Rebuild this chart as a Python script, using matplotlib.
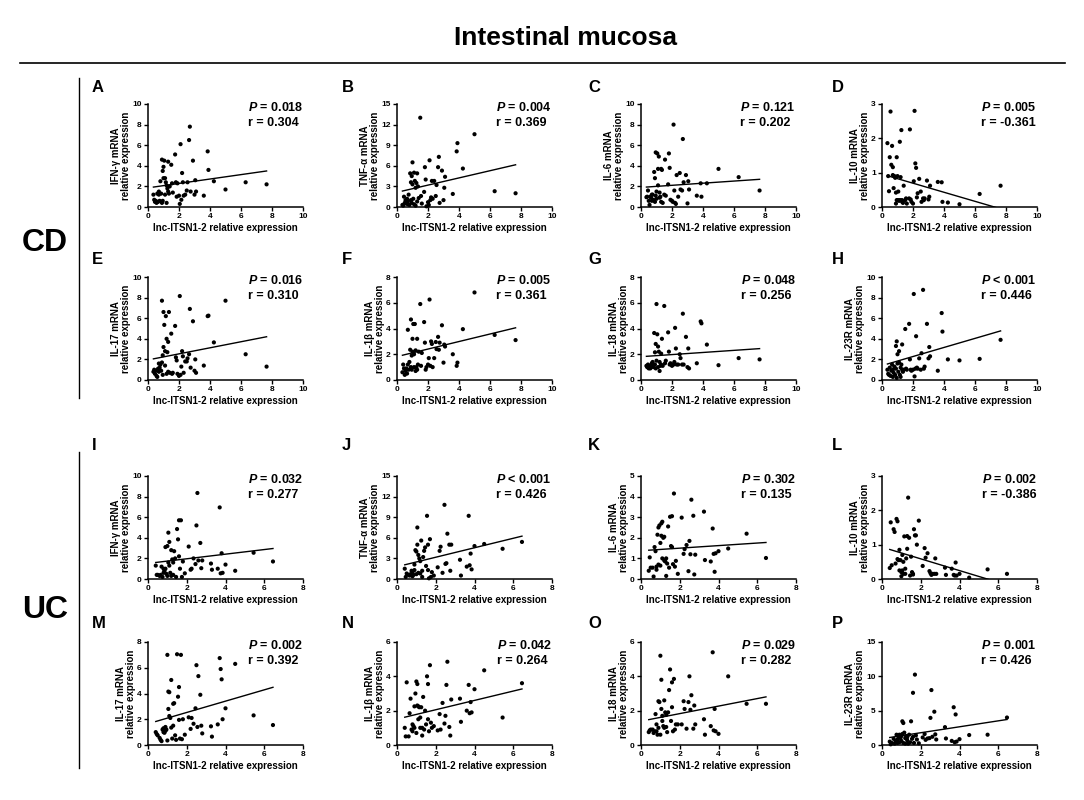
import matplotlib
matplotlib.use('Agg')
import matplotlib.pyplot as plt
from matplotlib.lines import Line2D
import numpy as np

plt.rcParams['font.family'] = ['Liberation Sans', 'DejaVu Sans']
plt.rcParams['font.weight'] = 'bold'
plt.rcParams['axes.labelweight'] = 'bold'
plt.rcParams['mathtext.fontset'] = 'custom'
plt.rcParams['mathtext.rm'] = 'Liberation Sans:bold'
plt.rcParams['mathtext.bfit'] = 'Liberation Sans:italic:bold'

# lnc-ITSN1-2 relative expression (shared by all panels of one disease)
cd_x = [0.35, 0.4, 0.45, 0.5, 0.55, 0.6, 0.65, 0.7, 0.7, 0.75,
        0.8, 0.85, 0.9, 0.9, 0.95, 0.95, 1.0, 1.0, 1.05, 1.1,
        1.1, 1.15, 1.2, 1.2, 1.25, 1.3, 1.3, 1.35, 1.4, 1.5,
        1.55, 1.6, 1.75, 1.8, 1.85, 1.9, 2.0, 2.05, 2.1, 2.15,
        2.2, 2.25, 2.3, 2.4, 2.5, 2.55, 2.65, 2.7, 2.75, 2.9,
        3.0, 3.05, 3.1, 3.6, 3.85, 3.9, 4.25, 5.0, 6.3, 7.65]
uc_x = [0.4, 0.45, 0.5, 0.6, 0.65, 0.7, 0.75, 0.8, 0.8, 0.85,
        0.9, 0.9, 0.95, 1.0, 1.0, 1.05, 1.05, 1.1, 1.1, 1.15,
        1.2, 1.2, 1.25, 1.3, 1.3, 1.35, 1.4, 1.45, 1.5, 1.55,
        1.6, 1.6, 1.65, 1.7, 1.75, 1.8, 1.9, 2.1, 2.2, 2.25,
        2.35, 2.45, 2.5, 2.55, 2.6, 2.7, 2.75, 2.8, 3.25, 3.3,
        3.6, 3.7, 3.75, 3.8, 3.85, 4.0, 4.5, 5.45, 6.45]

# CD cytokine mRNA
cd_ifng = [1.2, 0.7, 0.5, 0.6, 0.4, 1.3, 0.5, 1.5, 1.2, 0.6,
           2.5, 1.3, 4.6, 0.4, 3.5, 0.6, 3.9, 2.8, 4.5, 2.8,
           1.2, 2.4, 0.4, 2.1, 1.8, 4.4, 1.5, 1.3, 2.0, 4.1,
           2.3, 1.4, 5.1, 2.4, 1.0, 2.3, 1.1, 0.3, 6.1, 0.7,
           3.3, 2.4, 1.1, 1.2, 1.6, 2.4, 6.5, 7.8, 1.5, 4.5,
           1.2, 2.6, 1.5, 1.1, 5.4, 3.6, 2.5, 1.7, 2.4, 2.2]
cd_tnfa = [0.3, 0.2, 1.5, 0.6, 1.0, 0.5, 1.2, 0.8, 0.4, 1.8,
           0.3, 4.9, 3.6, 1.0, 0.6, 4.5, 3.3, 6.5, 1.2, 5.0,
           0.4, 3.8, 2.8, 0.2, 3.5, 0.8, 4.9, 3.0, 1.3, 13.0,
           1.6, 0.5, 2.2, 5.8, 4.0, 0.1, 0.7, 0.3, 6.8, 1.0,
           1.4, 3.8, 1.2, 3.8, 1.6, 3.2, 5.8, 7.3, 0.6, 5.3,
           1.0, 2.8, 4.4, 1.9, 8.1, 9.3, 5.6, 10.6, 2.3, 2.0]
cd_il6 = [0.95, 1.0, 1.6, 0.6, 0.2, 1.0, 0.9, 1.2, 0.6, 1.2,
          0.7, 3.4, 2.8, 0.5, 5.3, 1.1, 0.8, 1.5, 5.2, 3.7,
          2.1, 4.9, 1.4, 0.9, 1.0, 3.7, 0.5, 3.6, 0.4, 1.2,
          4.6, 1.1, 2.2, 5.2, 3.8, 0.7, 0.6, 0.5, 8.0, 1.6,
          0.4, 0.3, 3.1, 1.0, 3.3, 1.7, 1.6, 6.6, 2.4, 3.1,
          0.35, 2.5, 1.7, 1.1, 2.3, 1.0, 2.3, 3.7, 2.9, 1.6]
cd_il10 = [1.86, 0.9, 0.46, 1.45, 2.78, 1.23, 1.78, 1.16, 0.93, 0.55,
           0.9, 0.85, 0.1, 0.42, 1.45, 0.2, 0.2, 0.9, 0.45, 0.18,
           0.2, 1.9, 0.2, 0.87, 2.24, 0.15, 0.2, 0.12, 0.62, 0.2,
           0.25, 0.1, 0.25, 2.26, 0.22, 0.15, 0.1, 0.75, 2.8, 1.27,
           1.14, 0.28, 0.4, 0.82, 0.45, 0.15, 0.25, 0.2, 0.25, 0.77,
           0.22, 0.3, 0.62, 0.73, 0.72, 0.15, 0.13, 0.08, 0.38, 0.62]
cd_il17 = [0.8, 1.0, 0.6, 0.9, 0.4, 0.3, 1.1, 0.8, 1.6, 1.2,
           1.5, 0.9, 7.7, 1.7, 0.5, 2.4, 6.6, 3.2, 5.35, 2.8,
           1.4, 6.2, 4.0, 0.6, 2.7, 3.7, 0.8, 6.6, 0.7, 4.5,
           0.6, 0.7, 5.25, 2.2, 1.9, 0.6, 0.4, 8.15, 0.5, 1.3,
           2.8, 2.3, 0.7, 1.8, 1.8, 2.1, 2.5, 6.9, 1.2, 5.7,
           0.9, 2.0, 0.7, 1.4, 6.2, 6.25, 3.65, 7.7, 2.5, 1.3]
cd_il1b = [0.6, 1.2, 0.9, 0.4, 0.7, 0.9, 0.5, 3.9, 1.2, 0.8,
           1.4, 2.35, 4.7, 1.0, 0.8, 1.9, 3.2, 2.2, 4.35, 1.0,
           2.0, 4.35, 0.7, 2.3, 1.0, 3.2, 0.8, 1.2, 2.2, 5.9,
           1.1, 2.1, 4.5, 2.9, 0.8, 1.0, 1.2, 1.7, 6.25, 1.1,
           3.0, 2.8, 1.0, 1.7, 2.95, 2.4, 3.35, 2.35, 2.9, 4.25,
           1.35, 2.75, 2.6, 2.0, 1.1, 1.35, 3.95, 6.8, 3.5, 3.1]
cd_il18 = [1.1, 1.0, 1.2, 0.9, 1.1, 0.9, 1.0, 1.3, 1.1, 1.4,
           1.0, 3.65, 2.15, 1.2, 0.9, 2.8, 5.9, 1.5, 3.55, 2.6,
           1.0, 2.2, 0.7, 1.4, 1.1, 2.05, 1.2, 3.2, 1.1, 5.75,
           1.3, 1.5, 3.7, 2.2, 1.2, 1.3, 1.1, 1.2, 1.2, 1.4,
           4.05, 2.45, 1.2, 1.2, 2.0, 1.7, 1.2, 5.15, 1.2, 3.35,
           1.0, 2.45, 0.9, 1.3, 4.55, 4.4, 2.75, 1.15, 1.7, 1.6]
cd_il23r = [1.0, 0.6, 0.5, 1.2, 0.4, 0.9, 1.5, 0.3, 1.0, 0.7,
            1.3, 0.5, 3.3, 1.1, 3.75, 0.2, 2.5, 1.6, 0.8, 2.8,
            1.7, 0.5, 1.2, 0.3, 1.5, 3.45, 1.0, 0.8, 1.0, 4.95,
            1.1, 1.0, 5.45, 2.0, 1.0, 0.9, 1.0, 8.35, 0.35, 1.1,
            4.25, 1.2, 1.1, 2.1, 1.0, 2.6, 8.75, 1.1, 1.3, 5.45,
            2.1, 3.2, 2.3, 0.9, 6.5, 4.7, 2.0, 1.9, 2.05, 3.9]

# UC cytokine mRNA
uc_ifng = [1.3, 0.4, 0.4, 0.3, 0.4, 1.2, 0.2, 1.0, 0.6, 0.8,
           3.1, 1.0, 0.5, 3.2, 0.3, 4.5, 1.6, 3.6, 1.3, 0.6,
           2.8, 0.3, 1.9, 1.6, 0.4, 2.7, 2.0, 0.2, 4.85, 3.85,
           5.7, 2.2, 1.0, 5.7, 0.2, 1.7, 0.55, 3.15, 0.9, 1.0,
           2.0, 1.45, 5.2, 8.35, 1.8, 3.5, 1.05, 1.8, 1.5, 0.9,
           1.0, 6.95, 0.55, 2.5, 0.6, 1.4, 0.8, 2.55, 1.7]
uc_tnfa = [1.5, 0.3, 0.8, 0.6, 0.5, 0.7, 1.2, 0.4, 0.9, 0.6,
           2.1, 1.3, 4.2, 4.0, 0.7, 7.5, 5.0, 3.5, 0.9, 3.0,
           0.8, 2.6, 5.6, 1.2, 0.3, 3.2, 4.1, 4.6, 1.9, 9.2,
           5.0, 1.3, 0.1, 5.8, 0.3, 1.0, 0.5, 1.7, 4.1, 4.7,
           0.9, 10.8, 2.2, 2.3, 6.6, 5.0, 1.2, 5.0, 2.8, 0.5,
           1.8, 9.2, 2.0, 3.7, 1.4, 4.8, 5.1, 4.4, 5.4]
uc_il6 = [0.4, 1.05, 0.55, 0.55, 0.12, 1.55, 1.35, 0.6, 0.45, 2.15,
          2.5, 0.7, 2.6, 1.75, 0.65, 2.7, 2.1, 2.78, 1.0, 2.0,
          0.9, 2.05, 0.85, 1.0, 0.15, 0.75, 2.55, 0.55, 3.02, 1.6,
          1.55, 3.05, 0.72, 4.15, 0.6, 0.88, 0.25, 2.98, 1.22, 1.45,
          1.65, 0.38, 1.85, 1.2, 3.85, 3.07, 0.22, 1.18, 3.27, 0.92,
          0.85, 2.45, 1.22, 0.35, 1.25, 1.35, 1.48, 2.2, 1.02]
uc_il10 = [0.32, 1.65, 0.4, 1.45, 1.37, 0.45, 1.75, 0.58, 1.68, 0.55,
           0.85, 0.25, 0.55, 0.2, 0.08, 0.7, 0.25, 0.15, 0.5, 1.24,
           0.3, 0.15, 0.6, 1.25, 0.88, 2.37, 1.2, 0.1, 0.65, 0.2,
           0.13, 0.15, 1.45, 1.27, 1.27, 1.0, 1.7, 0.38, 0.9, 0.62,
           0.75, 0.23, 0.17, 0.12, 0.15, 0.15, 0.6, 0.15, 0.33, 0.12,
           0.3, 0.12, 0.1, 0.48, 0.1, 0.15, 0.04, 0.28, 0.15]
uc_il17 = [1.0, 0.85, 0.75, 0.55, 0.4, 0.3, 1.2, 1.0, 1.3, 0.95,
           1.1, 1.4, 1.2, 7.0, 0.35, 4.15, 2.8, 4.1, 2.25, 2.1,
           5.05, 1.35, 0.5, 3.2, 1.5, 3.25, 0.75, 0.4, 7.05, 3.75,
           4.5, 1.95, 0.5, 7.0, 0.45, 2.0, 0.8, 2.15, 1.25, 2.1,
           1.65, 2.85, 6.2, 1.4, 5.35, 3.9, 1.5, 0.9, 1.45, 0.65,
           1.6, 6.75, 5.9, 5.1, 2.0, 2.85, 6.3, 2.3, 1.55]
uc_il1b = [1.0, 0.5, 3.65, 0.5, 1.85, 2.7, 0.9, 1.2, 0.8, 1.1,
           2.25, 1.0, 3.0, 3.7, 0.7, 3.55, 2.3, 1.5, 2.25, 2.2,
           1.6, 1.0, 2.2, 0.55, 1.0, 2.8, 0.9, 2.0, 1.2, 4.0,
           3.55, 1.5, 0.8, 4.65, 1.3, 1.0, 1.1, 0.85, 1.8, 0.9,
           2.45, 1.25, 1.7, 3.5, 4.85, 1.05, 0.55, 2.65, 2.7, 1.35,
           2.0, 3.5, 1.85, 2.5, 1.9, 3.25, 4.35, 1.6, 3.6]
uc_il18 = [0.75, 0.85, 0.9, 0.9, 0.7, 0.8, 1.8, 1.2, 0.8, 0.6,
           2.55, 1.0, 2.5, 5.2, 0.6, 2.1, 3.8, 1.7, 1.4, 1.1,
           2.6, 1.0, 1.9, 1.75, 1.05, 0.75, 1.9, 3.2, 4.4, 1.4,
           3.65, 2.2, 0.8, 3.85, 0.9, 1.2, 1.2, 1.2, 2.55, 2.1,
           0.95, 2.5, 4.0, 2.05, 2.9, 0.95, 2.3, 1.2, 1.5, 0.6,
           1.1, 5.4, 0.85, 2.1, 0.8, 0.65, 4.0, 2.4, 2.4]
uc_il23r = [0.5, 0.1, 0.3, 0.9, 0.2, 0.6, 1.5, 0.3, 0.8, 1.2,
            0.4, 1.5, 1.0, 0.6, 1.3, 3.45, 1.6, 3.2, 0.3, 1.8,
            1.0, 0.2, 1.3, 0.7, 1.1, 0.2, 1.5, 0.4, 3.45, 0.9,
            7.6, 1.2, 0.3, 10.25, 1.4, 0.8, 0.25, 1.1, 1.6, 0.75,
            0.95, 1.0, 3.95, 8.0, 1.2, 4.85, 1.55, 0.8, 2.6, 0.95,
            0.6, 5.5, 0.4, 4.45, 0.5, 0.85, 1.45, 1.5, 4.0]

letters = list('ABCDEFGHIJKLMNOP')
cytokines = ['IFN-γ', 'TNF-α', 'IL-6', 'IL-10', 'IL-17', 'IL-1β', 'IL-18', 'IL-23R'] * 2
y_series = [cd_ifng, cd_tnfa, cd_il6, cd_il10, cd_il17, cd_il1b, cd_il18, cd_il23r,
            uc_ifng, uc_tnfa, uc_il6, uc_il10, uc_il17, uc_il1b, uc_il18, uc_il23r]
y_max = [10, 15, 10, 3, 10, 8, 8, 10,
         10, 15, 5, 3, 8, 6, 6, 15]
y_step = [2, 3, 2, 1, 2, 2, 2, 2,
          2, 3, 1, 1, 2, 2, 2, 5]
p_text = ['= 0.018', '= 0.004', '= 0.121', '= 0.005', '= 0.016', '= 0.005', '= 0.048', '< 0.001',
          '= 0.032', '< 0.001', '= 0.302', '= 0.002', '= 0.002', '= 0.042', '= 0.029', '= 0.001']
r_text = ['0.304', '0.369', '0.202', '-0.361', '0.310', '0.361', '0.256', '0.446',
          '0.277', '0.426', '0.135', '-0.386', '0.392', '0.264', '0.282', '0.426']
# regression line (intercept, slope)
fit_b0 = [1.86, 2.14, 1.90, 0.957, 1.95, 1.82, 1.81, 1.40,
          1.515, 1.79, 1.373, 0.929, 1.65, 1.51, 1.39, 0.92]
fit_b1 = [0.214, 0.524, 0.103, -0.132, 0.294, 0.292, 0.082, 0.44,
          0.224, 0.69, 0.062, -0.171, 0.439, 0.272, 0.219, 0.433]

W, H = 1084, 800
fig = plt.figure(figsize=(W / 100, H / 100), dpi=100)

col_left = [148, 397, 641, 882]
row_top = [104, 277, 476, 642]
letter_x = [92, 342, 588, 832]
letter_y = [87, 260, 446, 623]
ax_w, ax_h = 155, 103

for i in range(16):
    row, col = divmod(i, 4)
    cd = i < 8
    xs = np.array(cd_x if cd else uc_x)
    ys = np.array(y_series[i])
    ax = fig.add_axes([col_left[col] / W, 1 - (row_top[row] + ax_h) / H, ax_w / W, ax_h / H])
    ax.scatter(xs, ys, s=9, color='black', edgecolors='none', clip_on=False, zorder=3)
    lx = np.array([xs.min(), xs.max()])
    ax.plot(lx, fit_b0[i] + fit_b1[i] * lx, color='black', lw=1.0)
    xmax = 10 if cd else 8
    ax.set_xlim(0, xmax)
    ax.set_ylim(0, y_max[i])
    ax.set_xticks(np.arange(0, xmax + 1, 2))
    ax.set_yticks(np.arange(0, y_max[i] + 0.01, y_step[i]))
    for s in ['top', 'right']:
        ax.spines[s].set_visible(False)
    for s in ['left', 'bottom']:
        ax.spines[s].set_linewidth(1.1)
    ax.tick_params(direction='out', length=3, width=1, labelsize=6, pad=1.5)
    ax.set_xlabel('lnc-ITSN1-2 relative expression', fontsize=7, labelpad=2)
    ax.set_ylabel(cytokines[i] + ' mRNA\nrelative expression', fontsize=7, labelpad=1, linespacing=1.0)
    ax.text(1.0, 1.03, '$\\mathbfit{P}$ ' + p_text[i] + '\nr = ' + r_text[i],
            transform=ax.transAxes, ha='right', va='top', multialignment='left',
            fontsize=9, linespacing=1.3)
    fig.text(letter_x[col] / W, 1 - letter_y[row] / H, letters[i],
             fontsize=12, ha='left', va='center')

fig.text(566 / W, 1 - 38 / H, 'Intestinal mucosa', fontsize=19, ha='center', va='center')
fig.add_artist(Line2D([20 / W, 1065 / W], [1 - 63 / H, 1 - 63 / H], color='black', lw=1.2))
fig.text(45 / W, 1 - 243 / H, 'CD', fontsize=23, ha='center', va='center')
fig.text(45 / W, 1 - 610 / H, 'UC', fontsize=23, ha='center', va='center')
for top, bot in [(78, 398), (452, 768)]:
    fig.add_artist(Line2D([79 / W, 79 / W], [1 - top / H, 1 - bot / H], color='black', lw=1.0))

fig.savefig('out.png', dpi=100)
